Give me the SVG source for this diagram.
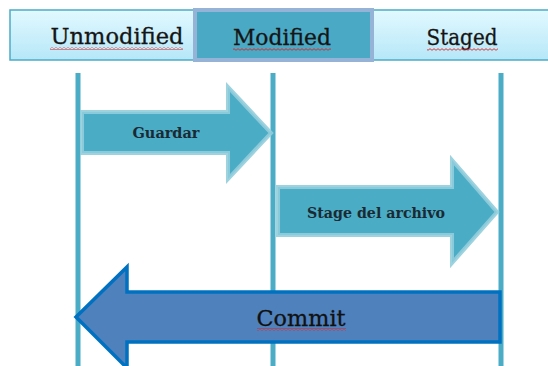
<svg xmlns="http://www.w3.org/2000/svg" width="548" height="366" viewBox="0 0 548 366">
<defs>
<linearGradient id="hdr" x1="0" y1="0" x2="0" y2="1">
<stop offset="0" stop-color="#e2f9ff"/>
<stop offset="1" stop-color="#b6e7f8"/>
</linearGradient>
<pattern id="wave" x="0" y="0" width="4" height="3" patternUnits="userSpaceOnUse">
<polyline points="0,2.3 2,0.7 4,2.3" fill="none" stroke="#e02424" stroke-width="0.9"/>
</pattern>
<style>
.hdr{fill:url(#hdr);stroke:#4bacc6;stroke-width:1.5}
.sel{fill:#4aa9c5;stroke:#95b3d7;stroke-width:4}
.ht{font-family:"DejaVu Serif","Liberation Serif",serif;font-size:22px;fill:#151515;stroke:#151515;stroke-width:0.3;text-anchor:middle}
.lane{stroke:#4bacc6;stroke-width:5;fill:none}
.arr{fill:#4bacc6;stroke:#92cddc;stroke-width:4;stroke-linejoin:miter;stroke-opacity:0.9}
.cm{fill:#4f81bd;stroke:#0070c0;stroke-width:3.5;stroke-linejoin:miter}
.at{font-family:"DejaVu Serif","Liberation Serif",serif;font-size:14px;font-weight:bold;fill:#1a2a33;text-anchor:middle}
.ct{font-family:"DejaVu Serif","Liberation Serif",serif;font-size:22px;fill:#111;stroke:#111;stroke-width:0.3;text-anchor:middle}
.sq{fill:url(#wave)}
</style>
</defs>
<rect width="548" height="366" fill="#ffffff"/>
<g id="header">
<g id="unmodified">
<rect class="hdr" x="10" y="10" width="545" height="50"/>
<text class="ht" x="117" y="44" textLength="133" lengthAdjust="spacingAndGlyphs">Unmodified</text>
<rect class="sq" x="50" y="47" width="133" height="3"/>
</g>
<g id="modified">
<rect class="sel" x="195" y="10" width="177" height="50"/>
<text class="ht" x="282" y="45" textLength="98" lengthAdjust="spacingAndGlyphs">Modified</text>
<rect class="sq" x="233" y="48" width="98" height="3"/>
</g>
<g id="staged">
<text class="ht" x="462" y="45" textLength="71" lengthAdjust="spacingAndGlyphs">Staged</text>
<rect class="sq" x="427" y="48" width="71" height="3"/>
</g>
</g>
<g id="connectors">
<line class="lane" x1="78" y1="73" x2="78" y2="366"/>
<line class="lane" x1="273" y1="73" x2="273" y2="366"/>
<line class="lane" x1="501" y1="73" x2="501" y2="366"/>
</g>
<g id="guardar">
<polygon class="arr" points="82,112 228,112 228,87 271,133 228,179 228,153 82,153"/>
<text class="at" x="166" y="138" textLength="67" lengthAdjust="spacingAndGlyphs">Guardar</text>
</g>
<g id="stage">
<polygon class="arr" points="278,187 452,187 452,160 497,212 452,263 452,235 278,235"/>
<text class="at" x="376" y="218" textLength="138" lengthAdjust="spacingAndGlyphs">Stage del archivo</text>
</g>
<g id="commit">
<polygon class="cm" points="76,317 127,267 127,292 500,292 500,342 127,342 127,368"/>
<text class="ct" x="301" y="326" textLength="89" lengthAdjust="spacingAndGlyphs">Commit</text>
<rect class="sq" x="257" y="328" width="89" height="3"/>
</g>
</svg>
